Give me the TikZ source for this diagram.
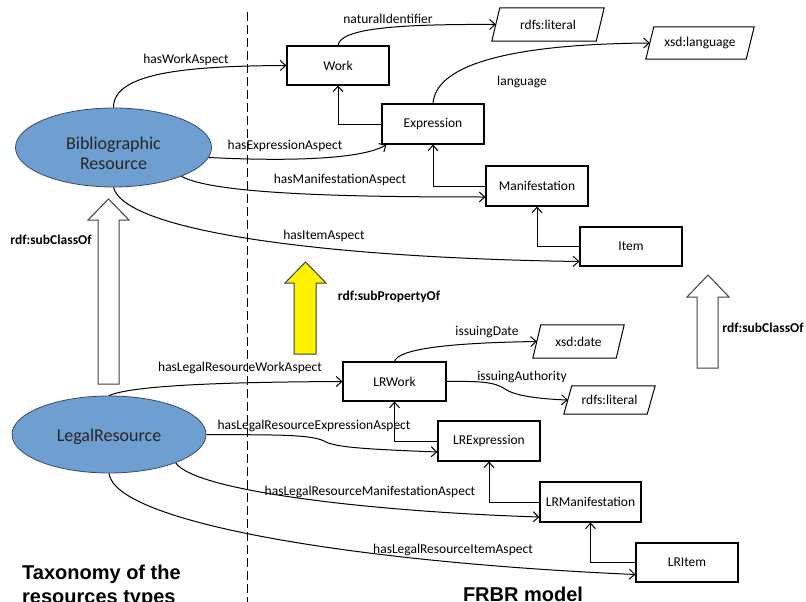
\documentclass[tikz,border=0pt]{standalone}
\usepackage{fontspec}
\setmainfont{Carlito}
\newfontfamily\arialfont{Liberation Sans}
\usetikzlibrary{shapes.geometric,arrows.meta}
\definecolor{ellfill}{RGB}{111,159,209}
\definecolor{elldraw}{RGB}{55,75,105}
\newcommand{\parabox}[1]{\draw[line width=1pt] ([xshift=4pt]#1.north west) -- ([xshift=4pt]#1.north east) -- ([xshift=-4pt]#1.south east) -- ([xshift=-4pt]#1.south west) -- cycle;}
\tikzset{
  lbl/.style={font=\fontsize{13.5}{16}\selectfont, inner sep=0},
  box/.style={draw, line width=1.1pt, minimum width=102pt, minimum height=40pt, font=\fontsize{13.5}{16}\selectfont, inner sep=0},
  res/.style={ellipse, draw=elldraw, fill=ellfill, line width=0.8pt, minimum width=194pt, minimum height=77pt, inner sep=0},
  restext/.style={font=\fontsize{18}{20}\selectfont, align=center, inner sep=0, text=black!85},
  lit/.style={font=\fontsize{13.5}{16}\selectfont, inner sep=0},
  conn/.style={line width=1pt, -{Straight Barb[length=5.5pt,width=10pt]}},
  fat/.style={draw=black!75, line width=1pt},
  boldlbl/.style={font=\bfseries\fontsize{13.5}{16}\selectfont, inner sep=0},
  big/.style={font=\arialfont\bfseries\fontsize{20}{24}\selectfont, inner sep=0}
}
\begin{document}
\begin{tikzpicture}[x=1pt,y=-1pt]
\useasboundingbox (0,0) rectangle (806,602);
% divider
\coordinate (dtop) at (247,12);
\coordinate (dbot) at (247,602);
\draw[line width=1pt, dash pattern=on 9pt off 4pt] (dtop) -- (dbot);

% block arrows
\draw[fat, fill=white] (108.5,199) -- (129,220) -- (119,220) -- (119,384) -- (98,384) -- (98,220) -- (88,220) -- cycle;
\draw[fat, fill=white] (708,275) -- (729,297) -- (718,297) -- (718,368) -- (697,368) -- (697,297) -- (687,297) -- cycle;
\draw[fat, fill=yellow] (305.5,262) -- (326,283) -- (316,283) -- (316,354) -- (294,354) -- (294,283) -- (285,283) -- cycle;

% resources
\node[res, minimum width=196pt, minimum height=79pt, label={[restext, yshift=-6pt]center:Bibliographic\\Resource}] (br) at (113.5,147.5) {};
\node[res, label={[restext, yshift=-2.5pt]center:LegalResource}] (lr) at (109,434.5) {};

% FRBR boxes
\node[box, minimum height=39pt] (work) at (338,65.5) {Work};
\node[box] (expr) at (433,124) {Expression};
\node[box] (man) at (537,186) {Manifestation};
\node[box, minimum height=39pt] (item) at (631,246.5) {Item};
\node[box, minimum width=103pt, minimum height=39pt] (lrwork) at (394.5,381.5) {LRWork};
\node[box] (lrexpr) at (489,441) {LRExpression};
\node[box, minimum width=101pt] (lrman) at (590.5,502) {LRManifestation};
\node[box, minimum height=39pt] (lritem) at (687,562.5) {LRItem};

% literals
\node[lit, minimum width=104pt, minimum height=33pt] (lit1) at (548,24.5) {rdfs:literal};
\node[lit, minimum width=100pt, minimum height=32pt] (lang) at (700,43) {xsd:language};
\node[lit, minimum width=83pt, minimum height=33pt] (date) at (578.5,341.5) {xsd:date};
\node[lit, minimum width=83pt, minimum height=28pt] (lit2) at (609.5,400) {rdfs:literal};
\parabox{lit1}
\parabox{lang}
\parabox{date}
\parabox{lit2}

% upper connectors
\draw[conn] (br.north) .. controls (113,72) and (190,66) .. (work.west);
\draw[conn] (br.-6) .. controls (300,162) and (365,158) .. ([xshift=5pt]expr.south west);
\draw[conn] (br.-23) .. controls (215,195) and (360,197) .. ([yshift=-11pt]man.west);
\draw[conn] (br.south) .. controls (125,232) and (330,258) .. ([yshift=-15pt]item.west);
\draw[conn] (work.north) .. controls (340,28) and (400,24) .. (lit1.west);
\draw[conn] (expr.north) .. controls (436,62) and (520,44) .. (lang.west);
\draw[conn] (expr.west) -| (work.south);
\draw[conn] (man.west) -| (expr.south);
\draw[conn] (item.west) -| (man.south);

% lower connectors
\draw[conn] (lr.north) .. controls (135,384) and (250,382) .. (lrwork.west);
\draw[conn] (lr.east) .. controls (270,435) and (310,434) .. (324,441) .. controls (334,447) and (360,449) .. ([yshift=-11pt]lrexpr.west);
\draw[conn] (lr.-23) .. controls (195,492) and (380,512) .. ([yshift=-15pt]lrman.west);
\draw[conn] (lr.south) .. controls (115,522) and (350,562) .. ([yshift=-12pt]lritem.west);
\draw[conn] (lrwork.north) .. controls (398,350) and (440,343) .. (date.west);
\draw[conn] (lrwork.east) .. controls (480,381) and (495,382) .. (505,389) .. controls (515,396) and (540,399) .. (lit2.west);
\draw[conn] (lrexpr.west) -| (lrwork.south);
\draw[conn] (lrman.west) -| (lrexpr.south);
\draw[conn] (lritem.west) -| (lrman.south);

% edge labels
\node[lbl] (l1) at (186,60) {hasWorkAspect};
\node[lbl] (l2) at (285,146) {hasExpressionAspect};
\node[lbl] (l3) at (340,180) {hasManifestationAspect};
\node[lbl] (l4) at (324,236) {hasItemAspect};
\node[lbl] (l5) at (388,19) {naturalIdentifier};
\node[lbl] (l6) at (522,82) {language};
\node[lbl] (l7) at (240,368) {hasLegalResourceWorkAspect};
\node[lbl] (l8) at (314,426) {hasLegalResourceExpressionAspect};
\node[lbl] (l9) at (370,492) {hasLegalResourceManifestationAspect};
\node[lbl] (l10) at (453,550) {hasLegalResourceItemAspect};
\node[lbl] (l11) at (487,332) {issuingDate};
\node[lbl] (l12) at (522,377) {issuingAuthority};

% block arrow labels
\node[boldlbl] (sc1) at (51,240) {rdf:subClassOf};
\node[boldlbl] (sc2) at (763,328) {rdf:subClassOf};
\node[boldlbl] (sp) at (389,297) {rdf:subPropertyOf};

% titles
\node[big, anchor=base west] (tax1) at (22,579) {Taxonomy of the};
\node[big, anchor=base west] (tax2) at (22,603) {resources types};
\node[big, anchor=base] (frbr) at (523,601) {FRBR model};
\end{tikzpicture}
\end{document}
